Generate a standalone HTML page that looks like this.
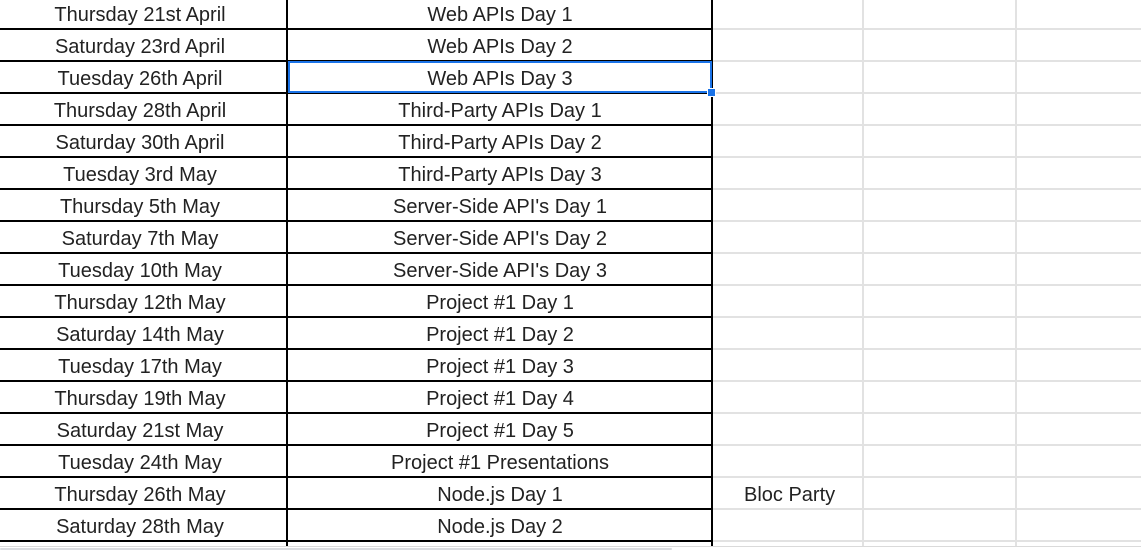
<!DOCTYPE html>
<html><head><meta charset="utf-8"><style>
html,body{margin:0;padding:0;width:1141px;height:550px;overflow:hidden;background:#fff;position:relative;font-family:"Liberation Sans",Arial,sans-serif;}
.h{position:absolute;height:2px;background:#000;left:0;width:712px;}
.g{position:absolute;background:#e2e2e2;}
.v{position:absolute;width:2px;background:#000;top:0;height:546px;}
.t{position:absolute;height:32px;line-height:32px;font-size:20px;color:#222;text-align:center;white-space:nowrap;}
</style></head><body>
<div id="c"></div>
<div class="v" style="left:286px"></div>
<div class="v" style="left:711px"></div>
<div class="g" style="left:862px;top:0;width:2px;height:546px"></div>
<div class="g" style="left:1015px;top:0;width:2px;height:546px"></div>
<div style="position:absolute;left:288px;top:61px;width:420px;height:28px;border:2px solid #1a73e8"></div>
<div style="position:absolute;left:707px;top:88px;width:7px;height:7px;background:#1a73e8;border:1px solid #fff"></div>
<div class="g" style="left:0;top:546px;width:1141px;height:1px;background:#dadada"></div>
<div style="position:absolute;left:0;top:548px;width:672px;height:2px;background:#dadce0;border-radius:2px"></div>
<script>
var a=[["Thursday 21st April","Web APIs Day 1"],["Saturday 23rd April","Web APIs Day 2"],["Tuesday 26th April","Web APIs Day 3"],["Thursday 28th April","Third-Party APIs Day 1"],["Saturday 30th April","Third-Party APIs Day 2"],["Tuesday 3rd May","Third-Party APIs Day 3"],["Thursday 5th May","Server-Side API's Day 1"],["Saturday 7th May","Server-Side API's Day 2"],["Tuesday 10th May","Server-Side API's Day 3"],["Thursday 12th May","Project #1 Day 1"],["Saturday 14th May","Project #1 Day 2"],["Tuesday 17th May","Project #1 Day 3"],["Thursday 19th May","Project #1 Day 4"],["Saturday 21st May","Project #1 Day 5"],["Tuesday 24th May","Project #1 Presentations"],["Thursday 26th May","Node.js Day 1"],["Saturday 28th May","Node.js Day 2"]];
var h="";
for(var i=0;i<a.length;i++){var y=-1+32*i;
h+='<div class="t" style="left:0;width:280px;top:'+y+'px">'+a[i][0]+'</div>';
h+='<div class="t" style="left:288px;width:424px;top:'+y+'px">'+a[i][1]+'</div>';
var ly=28+32*i;
h+='<div class="h" style="top:'+ly+'px"></div>';
h+='<div class="g" style="left:713px;width:428px;height:2px;top:'+ly+'px"></div>';}
h+='<div class="t" style="left:744px;top:'+(-1+32*15)+'px;text-align:left">Bloc Party</div>';
document.getElementById("c").innerHTML=h;
</script>
</body></html>
